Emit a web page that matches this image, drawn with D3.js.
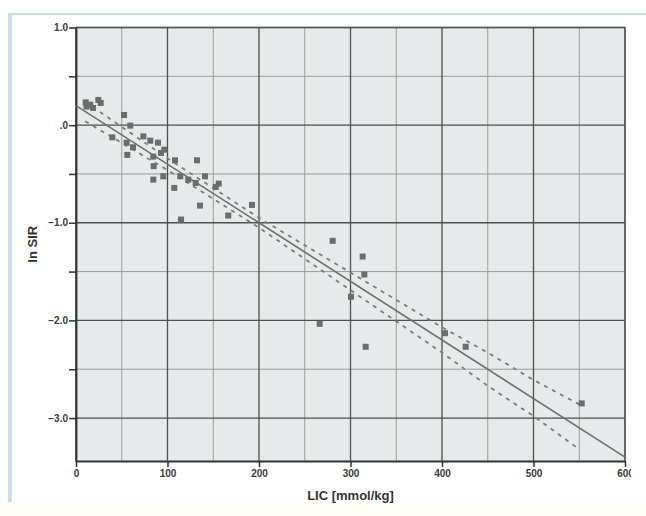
<!DOCTYPE html>
<html>
<head>
<meta charset="utf-8">
<script src="https://cdn.jsdelivr.net/npm/d3@7"></script>
<style>
  body { margin: 0; background: #fff; }
  svg text { font-family: "Liberation Sans", Arial, sans-serif; }
</style>
</head>
<body>
<svg id="chart" width="646" height="516"></svg>
<script>
// scatter points: LIC [mmol/kg] and ln SIR
const licValues = [10.6, 11.5, 15.6, 18.6, 24.4, 27, 39.7, 52.5, 55.4, 56.1, 59.3, 62.3,
  73.6, 81.2, 84.5, 84.9, 84.5, 89.6, 92.9, 95.4, 96.5, 107.4, 108.2, 114, 114.8,
  122.7, 130.8, 132.2, 135.5, 141, 152.7, 156, 166.4, 192.3, 266.3, 280.5, 300.5,
  313.3, 315.1, 316.6, 403.3, 425.9, 552.7];
const lnSirValues = [0.233, 0.19, 0.21, 0.176, 0.258, 0.227, -0.125, 0.104, -0.18, -0.305, -0.005, -0.227,
  -0.115, -0.159, -0.322, -0.42, -0.558, -0.179, -0.285, -0.524, -0.251, -0.643, -0.36, -0.524, -0.967,
  -0.558, -0.592, -0.36, -0.824, -0.524, -0.633, -0.599, -0.926, -0.817, -2.035, -1.185, -1.758,
  -1.346, -1.53, -2.27, -2.131, -2.27, -2.85];

// fit line and its confidence band
const fitX = [0, 600];
const fitY = [0.2, -3.4];
const bandX = [10, 100, 200, 300, 400, 450, 500, 550];
const bandUpper = [0.24, -0.34, -0.95, -1.51, -2.07, -2.33, -2.61, -2.86];
const bandLower = [0.04, -0.46, -1.05, -1.69, -2.33, -2.67, -2.98, -3.32];

const xMajor = [0, 100, 200, 300, 400, 500, 600];
const xMinor = [50, 150, 250, 350, 450, 550];
const yMajor = [1, 0, -1, -2, -3];
const yMinor = [0.5, -0.5, -1.5, -2.5];

const svg = d3.select('#chart');

// outer frame (light blue left/top edge, off-white below)
svg.append('rect').attr('x', 0).attr('y', 502).attr('width', 646).attr('height', 14).attr('fill', '#fefdf8');
svg.append('line').attr('x1', 10).attr('x2', 10).attr('y1', 13).attr('y2', 502)
  .attr('stroke', '#c9e0ec').attr('stroke-width', 4);
svg.append('line').attr('x1', 8).attr('x2', 646).attr('y1', 14).attr('y2', 14)
  .attr('stroke', '#c9e0ec').attr('stroke-width', 2);

const x = d3.scaleLinear().domain([0, 600]).range([76, 625]);
const y = d3.scaleLinear().domain([-3.44, 1.0]).range([461, 27.5]);

// plot background
svg.append('rect')
  .attr('x', x(0)).attr('y', y(1))
  .attr('width', x(600) - x(0)).attr('height', y(-3.44) - y(1))
  .attr('fill', '#e7eaea');

// minor grid
svg.append('g').selectAll('line').data(xMinor).join('line')
  .attr('x1', d => x(d)).attr('x2', d => x(d))
  .attr('y1', y(1)).attr('y2', y(-3.44))
  .attr('stroke', '#9a9c9c').attr('stroke-width', 1);
svg.append('g').selectAll('line').data(yMinor).join('line')
  .attr('x1', x(0)).attr('x2', x(600))
  .attr('y1', d => y(d)).attr('y2', d => y(d))
  .attr('stroke', '#9a9c9c').attr('stroke-width', 1);

// major grid
svg.append('g').selectAll('line').data(xMajor).join('line')
  .attr('x1', d => x(d)).attr('x2', d => x(d))
  .attr('y1', y(1)).attr('y2', y(-3.44))
  .attr('stroke', '#4e4f4f').attr('stroke-width', 1.3);
svg.append('g').selectAll('line').data(yMajor).join('line')
  .attr('x1', x(0)).attr('x2', x(600))
  .attr('y1', d => y(d)).attr('y2', d => y(d))
  .attr('stroke', '#4e4f4f').attr('stroke-width', 1.3);

// frame of plot
svg.append('rect')
  .attr('x', x(0)).attr('y', y(1))
  .attr('width', x(600) - x(0)).attr('height', y(-3.44) - y(1))
  .attr('fill', 'none').attr('stroke', '#555').attr('stroke-width', 1.3);

// axes
const clip = svg.append('clipPath').attr('id', 'clipX');
clip.append('rect').attr('x', 0).attr('y', 0).attr('width', 631).attr('height', 516);

const xAxis = svg.append('g')
  .attr('transform', `translate(0,${y(-3.44)})`)
  .attr('clip-path', 'url(#clipX)')
  .call(d3.axisBottom(x).tickValues(xMajor).tickSize(6).tickPadding(3).tickSizeOuter(0));
const yAxis = svg.append('g')
  .attr('transform', `translate(${x(0)},0)`)
  .call(d3.axisLeft(y).tickValues(yMajor.concat(yMinor)).tickSize(7).tickPadding(1).tickSizeOuter(0)
    .tickFormat(d => yMajor.includes(d) ? (d === 0 ? '.0' : d3.format('.1f')(d)) : ''));

[xAxis, yAxis].forEach(a => {
  a.select('.domain').attr('stroke', '#333').attr('stroke-width', 1.8);
  a.selectAll('.tick line').attr('stroke', '#333').attr('stroke-width', 1.5);
  a.selectAll('.tick text').attr('fill', '#3a3a3a').attr('font-size', 10).attr('font-weight', 'bold');
});

// confidence band
const bandLine = d3.line().x(d => x(d[0])).y(d => y(d[1]));
[bandUpper, bandLower].forEach(vals => {
  svg.append('path')
    .datum(bandX.map((v, i) => [v, vals[i]]))
    .attr('d', bandLine)
    .attr('fill', 'none')
    .attr('stroke', '#7c7e7e')
    .attr('stroke-width', 1.8)
    .attr('stroke-dasharray', '4,5');
});

// fit line
svg.append('path')
  .datum(fitX.map((v, i) => [v, fitY[i]]))
  .attr('d', bandLine)
  .attr('fill', 'none')
  .attr('stroke', '#6e7070')
  .attr('stroke-width', 1.6);

// points
const s = 6;
svg.append('g').selectAll('rect').data(licValues).join('rect')
  .attr('x', d => x(d) - s / 2)
  .attr('y', (d, i) => y(lnSirValues[i]) - s / 2)
  .attr('width', s).attr('height', s)
  .attr('fill', '#6b6d6d');

// titles
svg.append('text')
  .attr('x', (x(0) + x(600)) / 2).attr('y', 500)
  .attr('text-anchor', 'middle')
  .attr('font-size', 13).attr('font-weight', 'bold').attr('fill', '#333')
  .text('LIC [mmol/kg]');
svg.append('text')
  .attr('transform', `translate(37,${(y(1) + y(-3.44)) / 2}) rotate(-90)`)
  .attr('text-anchor', 'middle')
  .attr('font-size', 13).attr('font-weight', 'bold').attr('fill', '#333')
  .text('ln SIR');
</script>
</body>
</html>
